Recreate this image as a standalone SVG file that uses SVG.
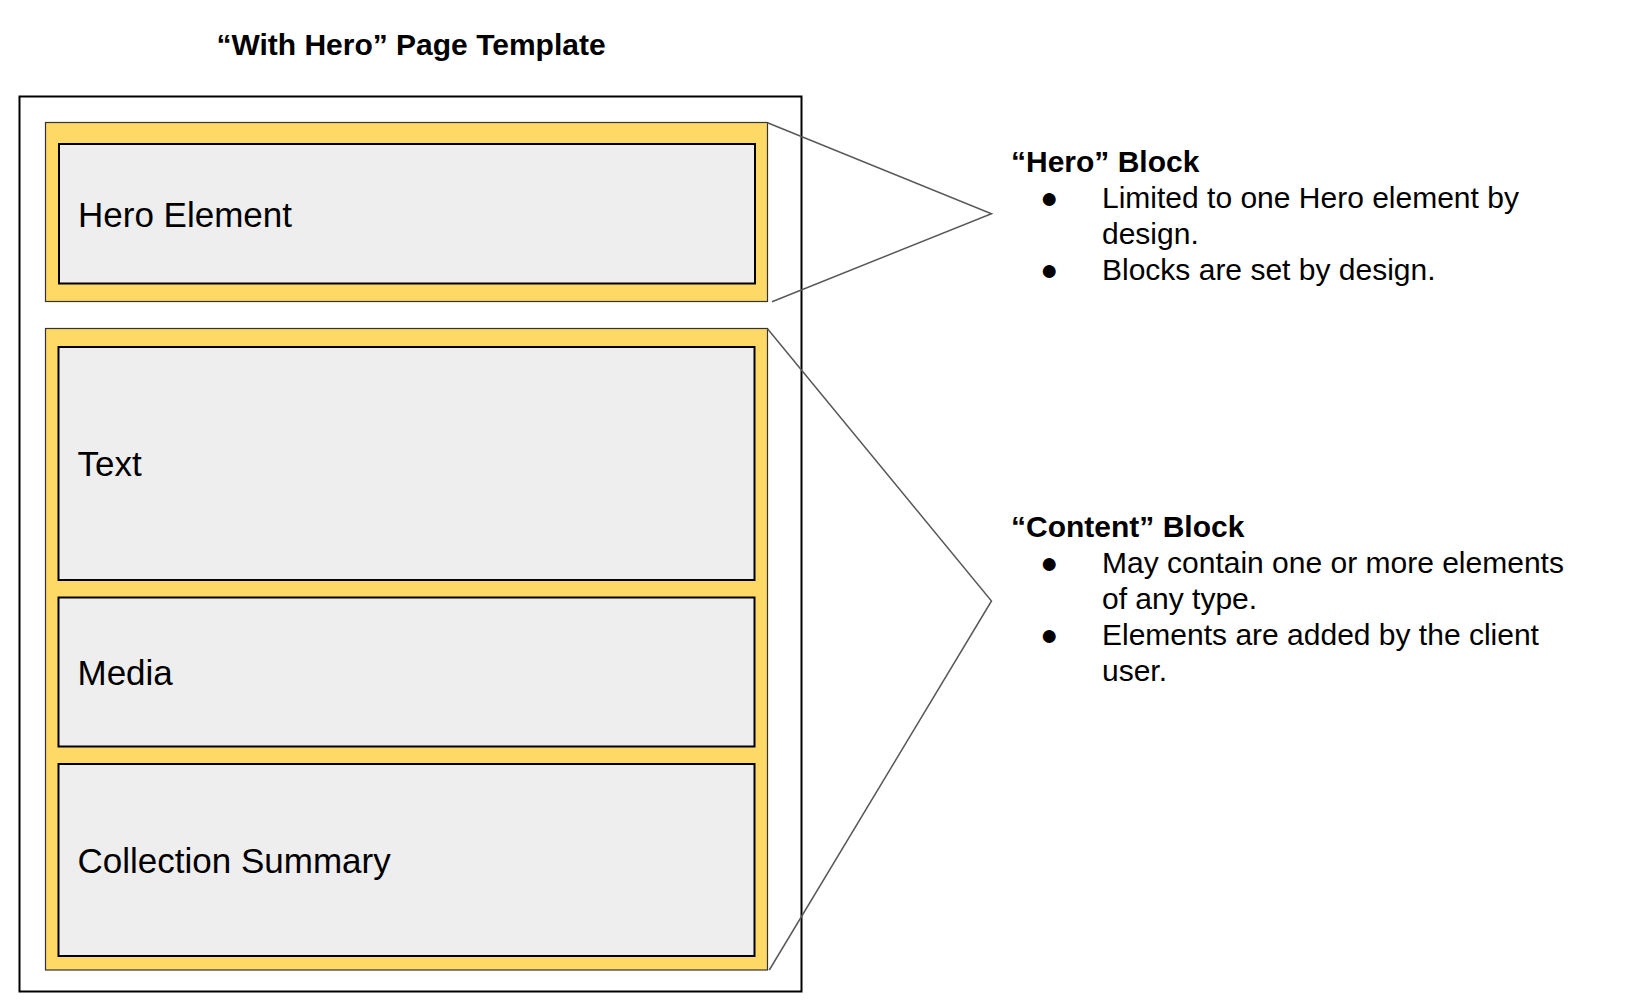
<svg xmlns="http://www.w3.org/2000/svg" width="1642" height="1004" viewBox="0 0 1642 1004">
  <style>
    text { font-family: "Liberation Sans", Arial, sans-serif; fill: #000000; }
    .title { font-size: 30px; font-weight: bold; }
    .head { font-size: 30px; font-weight: bold; }
    .body { font-size: 30px; }
    .label { font-size: 35px; }
    .page { fill: #ffffff; stroke: #000000; stroke-width: 2; }
    .block { fill: #ffd966; stroke: #333333; stroke-width: 1.2; }
    .elem { fill: #eeeeee; stroke: #000000; stroke-width: 2; }
    .conn { fill: none; stroke: #595959; stroke-width: 1.5; stroke-linejoin: miter; }
  </style>
  <rect width="1642" height="1004" fill="#ffffff"/>

  <text class="title" x="411" y="54.5" text-anchor="middle">“With Hero” Page Template</text>

  <g id="page">
    <rect class="page" x="19.5" y="96.5" width="782" height="895"/>
  </g>

  <g id="hero-block">
    <rect class="block" x="45.5" y="122.5" width="722" height="179"/>
  </g>
  <g id="hero-element">
    <rect class="elem" x="59" y="144" width="696" height="139.5"/>
    <text class="label" x="78" y="226.5">Hero Element</text>
  </g>

  <g id="content-block">
    <rect class="block" x="45.5" y="328.5" width="722" height="641.5"/>
  </g>
  <g id="text-element">
    <rect class="elem" x="58.5" y="347" width="696" height="233"/>
    <text class="label" x="77.5" y="476">Text</text>
  </g>
  <g id="media-element">
    <rect class="elem" x="58.5" y="597.5" width="696" height="149"/>
    <text class="label" x="77.5" y="684.5">Media</text>
  </g>
  <g id="collection-element">
    <rect class="elem" x="58.5" y="764" width="696" height="192"/>
    <text class="label" x="77.5" y="872.5">Collection Summary</text>
  </g>

  <g id="connectors">
    <polyline class="conn" points="767.5,122.7 991.5,213.7 772,301.7"/>
    <polyline class="conn" points="767.5,328.7 991.5,601 769.3,970"/>
  </g>

  <g id="hero-note">
    <text class="head" x="1011" y="172">“Hero” Block</text>
    <text class="body" x="1040" y="208">●</text>
    <text class="body" x="1102" y="208">Limited to one Hero element by</text>
    <text class="body" x="1102" y="244">design.</text>
    <text class="body" x="1040" y="280">●</text>
    <text class="body" x="1102" y="280">Blocks are set by design.</text>
  </g>

  <g id="content-note">
    <text class="head" x="1011" y="537">“Content” Block</text>
    <text class="body" x="1040" y="573">●</text>
    <text class="body" x="1102" y="573">May contain one or more elements</text>
    <text class="body" x="1102" y="609">of any type.</text>
    <text class="body" x="1040" y="645">●</text>
    <text class="body" x="1102" y="645">Elements are added by the client</text>
    <text class="body" x="1102" y="681">user.</text>
  </g>
</svg>
